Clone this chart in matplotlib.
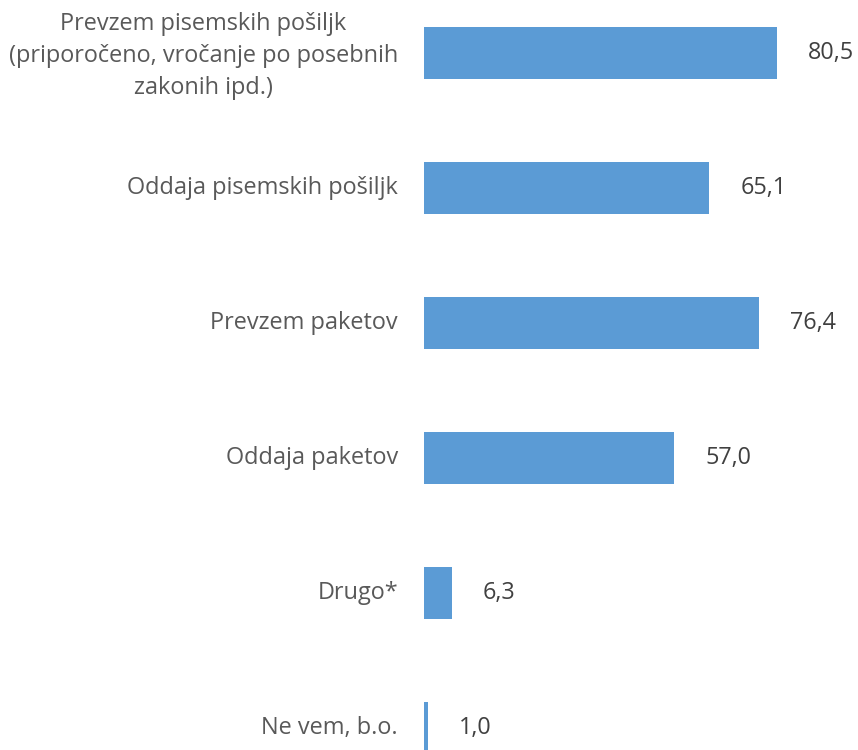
import matplotlib
matplotlib.use("Agg")
import matplotlib.pyplot as plt

plt.rcParams['font.family'] = ['Open Sans', 'DejaVu Sans']

categories = ["Prevzem pisemskih pošiljk\n(priporočeno, vročanje po posebnih\nzakonih ipd.)",
              "Oddaja pisemskih pošiljk",
              "Prevzem paketov",
              "Oddaja paketov",
              "Drugo*",
              "Ne vem, b.o."]
values = [80.5, 65.1, 76.4, 57.0, 6.3, 1.0]
value_labels = ["80,5", "65,1", "76,4", "57,0", "6,3", "1,0"]

fig = plt.figure(figsize=(8.58, 7.5), dpi=100)
# axes starts where the bars start (x=424px), full height
ax = fig.add_axes([424/858, 0, 1 - 424/858, 1])

pos = list(range(len(values)))
ax.barh(pos, values, height=0.39, color="#5B9BD5", edgecolor="none")

# px per unit ~4.385, axis width = 434px
ax.set_xlim(0, 434/4.385)
ax.set_ylim((750 - 53)/135.0, -53/135.0)

for p, v, lab in zip(pos, values, value_labels):
    ax.text(v + 31/4.385, p, lab, ha="left", va="center",
            fontsize=16.8, color="#404040")

for p, cat in zip(pos, categories):
    ax.text(-26/4.385, p + (0.02 if "\n" in cat else 0), cat, ha="right", va="center",
            multialignment="center", fontsize=16.9, color="#595959", linespacing=1.45)

ax.axis("off")

fig.savefig("out.png", dpi=100)
